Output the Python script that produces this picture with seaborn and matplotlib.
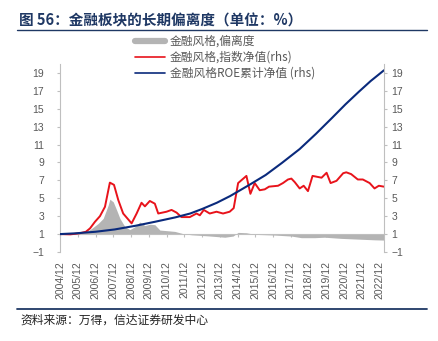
import matplotlib
matplotlib.use("Agg")
import matplotlib.pyplot as plt
import seaborn as sns
import pandas as pd
from matplotlib.lines import Line2D

# ---------------- data (x = months since 2004/12) ----------------
tick_labels = ["2004/12", "2005/12", "2006/12", "2007/12", "2008/12", "2009/12",
               "2010/12", "2011/12", "2012/12", "2013/12", "2014/12", "2015/12",
               "2016/12", "2017/12", "2018/12", "2019/12", "2020/12", "2021/12",
               "2022/12"]
tick_months = [0, 12, 24, 36, 48, 60, 72, 84, 96, 108, 120, 132, 144, 156, 168,
               180, 192, 204, 216]

# 金融风格,偏离度 (left axis, grey area)
dev_month = [0, 8, 14, 18, 21.4, 25.9, 29.2, 32.6, 33.7, 36, 38.3, 40.5, 43.9,
             47.2, 50.6, 54, 57.4, 60.7, 64.1, 67.5, 73.1, 77.6, 81, 83.2, 88.9,
             100.1, 111.4, 117, 120.4, 126, 131.6, 145.1, 156.4, 163.1, 172.1,
             178.9, 190.1, 201.3, 212.6, 219]
dev_value = [1.0, 0.97, 1.03, 1.26, 1.63, 2.2, 2.75, 4.24, 4.9, 4.6, 3.68, 2.75,
             1.82, 1.5, 1.82, 2.35, 1.95, 2.1, 2.05, 1.45, 1.37, 1.3, 1.15, 1.05,
             0.92, 0.8, 0.65, 0.78, 1.19, 1.15, 0.97, 0.89, 0.78, 0.6, 0.6, 0.65,
             0.52, 0.44, 0.36, 0.33]

# 金融风格,指数净值 (rhs)
idx_month = [0, 7, 13.5, 17.5, 20.3, 23.6, 27, 30.4, 33.7, 36.5, 39.4, 42.7, 48.4,
             51.8, 55.1, 57.4, 60.7, 64.1, 66.4, 72, 75.4, 78.8, 82.1, 87.7, 92.3,
             94.5, 97.2, 101.2, 105.8, 110.2, 114.7, 117.4, 120.4, 126, 128.7,
             131.6, 135, 138.4, 141.3, 147.4, 150.7, 154.1, 156.4, 158.7, 162,
             164.7, 167.6, 170.7, 173.8, 176.8, 180.2, 182.9, 186.9, 191.4, 193.5,
             196.8, 201.3, 204.7, 209.3, 212.6, 215.5, 218.9]
idx_value = [1.0, 0.97, 1.1, 1.26, 1.64, 2.37, 3.0, 4.05, 6.75, 6.5, 4.8, 3.3, 2.2,
             3.3, 4.5, 4.1, 4.7, 4.4, 3.3, 3.5, 3.7, 3.4, 2.9, 2.9, 3.3, 3.1, 3.7,
             3.3, 3.5, 3.3, 3.5, 3.9, 6.7, 7.5, 5.5, 6.7, 5.9, 6.0, 6.3, 6.4, 6.7,
             7.1, 7.2, 6.8, 6.1, 6.4, 5.8, 7.5, 7.4, 7.3, 7.85, 6.7, 6.95, 7.8,
             7.9, 7.7, 7.1, 7.1, 6.7, 6.1, 6.4, 6.3]

# 金融风格ROE累计净值 (rhs)
roe_month = [0, 10, 24, 37, 51, 64, 78, 88, 96, 106, 115, 128, 139, 150, 162,
             173, 184, 193, 202, 210, 219]
roe_value = [1.0, 1.08, 1.26, 1.52, 1.93, 2.37, 2.87, 3.3, 3.8, 4.5, 5.25, 6.5,
             7.6, 8.95, 10.5, 12.2, 14.0, 15.5, 16.9, 18.1, 19.3]

y_ticks = [-1, 1, 3, 5, 7, 9, 11, 13, 15, 17, 19]

# ---------------- style ----------------
sns.set_theme(style="white")
plt.rcParams['font.family'] = ['Liberation Sans', 'Noto Sans CJK SC', 'DejaVu Sans']
plt.rcParams['axes.unicode_minus'] = True

GRID = '#BFBFBF'
TXT = '#595959'
NAVY = '#1F3864'
CJK = ['Noto Sans CJK SC', 'DejaVu Sans']

fig = plt.figure(figsize=(4.39, 3.41), dpi=100)
W, H = 439, 341
ax = fig.add_axes([60 / W, 1 - 252 / H, 324 / W, 188 / H])
ax2 = ax.twinx()

dev_df = pd.DataFrame({"m": dev_month, "v": dev_value})
idx_df = pd.DataFrame({"m": idx_month, "v": idx_value})
roe_df = pd.DataFrame({"m": roe_month, "v": roe_value})

ax.fill_between(dev_df["m"], 1, dev_df["v"], color='#B4B4B4', lw=0)
sns.lineplot(data=idx_df, x="m", y="v", ax=ax2, color='#E8131B', lw=1.4,
             sort=False, estimator=None)
sns.lineplot(data=roe_df, x="m", y="v", ax=ax2, color='#0A2A7C', lw=1.5,
             sort=False, estimator=None)

for a in (ax, ax2):
    a.set_ylim(-1, 20)
    a.set_yticks(y_ticks)
    a.set_xlim(0, 219)
    a.set_xlabel('')
    a.set_ylabel('')
    a.grid(False)
    a.spines['top'].set_visible(False)

ax.set_xticks(tick_months)
ax.set_xticklabels(tick_labels)

ax.spines['right'].set_visible(False)
ax.spines['left'].set_color(GRID)
ax.spines['left'].set_linewidth(0.8)
ax.spines['bottom'].set_position(('data', 1))
ax.spines['bottom'].set_color(GRID)
ax.spines['bottom'].set_linewidth(0.8)

ax2.spines['left'].set_visible(False)
ax2.spines['bottom'].set_visible(False)
ax2.spines['right'].set_color(GRID)
ax2.spines['right'].set_linewidth(0.8)

ax.tick_params(axis='y', direction='out', length=2.5, width=0.8, color=GRID,
               labelcolor=TXT, labelsize=7.5, pad=9, left=True)
ax2.tick_params(axis='y', direction='out', length=2.5, width=0.8, color=GRID,
                labelcolor=TXT, labelsize=7.5, pad=3, right=True)
ax.tick_params(axis='x', direction='out', length=2.5, width=0.8, color=GRID,
               labelcolor=TXT, labelsize=7.5, pad=17, bottom=True,
               labelrotation=90)

# legend
handles = [Line2D([], [], color='#B4B4B4', lw=4.5),
           Line2D([], [], color='#E8131B', lw=1.2),
           Line2D([], [], color='#0A2A7C', lw=1.2)]
labels = ["金融风格,偏离度", "金融风格,指数净值(rhs)", "金融风格ROE累计净值 (rhs)"]
leg = fig.legend(handles, labels, loc='upper left',
                 bbox_to_anchor=(135 / W, 1 - 35 / H), frameon=False,
                 borderpad=0, borderaxespad=0, labelspacing=0.25,
                 handlelength=2.5, handletextpad=0.45,
                 prop={'family': CJK, 'size': 8.5})
for t in leg.get_texts():
    t.set_color(TXT)

# title, rules, source
fig.text(19 / W, 1 - 20 / H, "图 56：金融板块的长期偏离度（单位：%）",
         fontsize=10.5, fontweight='bold', color=NAVY, family=CJK, va='center')
fig.add_artist(Line2D([17 / W, 427 / W], [1 - 30 / H] * 2, color=NAVY, lw=1.0))
fig.add_artist(Line2D([17 / W, 427 / W], [1 - 309 / H] * 2, color=NAVY, lw=1.3))
fig.text(20 / W, 1 - 320 / H, "资料来源：万得，信达证券研发中心",
         fontsize=8.5, color='#222222', family=CJK, va='center', style='italic')

fig.savefig("out.png", dpi=100)
